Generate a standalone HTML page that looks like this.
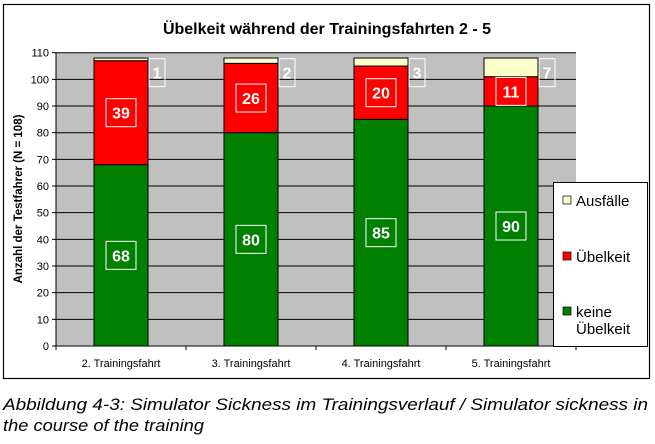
<!DOCTYPE html>
<html><head><meta charset="utf-8"><style>
body{margin:0;background:#fff;width:655px;height:439px;overflow:hidden;font-family:"Liberation Sans",sans-serif}
</style></head><body>
<svg id="c" width="655" height="439" xmlns="http://www.w3.org/2000/svg" font-family="Liberation Sans, sans-serif">
<rect x="3.5" y="4.5" width="646" height="374" fill="#fff" stroke="#000" stroke-width="1.2"/>
<text x="327" y="34" text-anchor="middle" font-size="16" font-weight="bold">Übelkeit während der Trainingsfahrten 2 - 5</text>
<g id="plot"></g>
<text transform="translate(22,199) rotate(-90)" text-anchor="middle" font-size="11.5" font-weight="bold">Anzahl der Testfahrer (N = 108)</text>
<g>
<rect x="553.5" y="182.5" width="94" height="164" fill="#fff" stroke="#000"/>
<rect x="563" y="196" width="8" height="8" fill="#ffffcc" stroke="#000" stroke-width="0.7"/>
<text x="576" y="206" font-size="15">Ausfälle</text>
<rect x="563" y="252" width="8" height="8" fill="#ff0000" stroke="#000" stroke-width="0.7"/>
<text x="576" y="262" font-size="15">Übelkeit</text>
<rect x="563" y="307" width="8" height="8" fill="#008000" stroke="#000" stroke-width="0.7"/>
<text x="576" y="317" font-size="15">keine</text>
<text x="576" y="334" font-size="15">Übelkeit</text>
</g>
<text x="3" y="410" font-size="16.5" font-style="italic" textLength="645" lengthAdjust="spacingAndGlyphs">Abbildung 4-3: Simulator Sickness im Trainingsverlauf / Simulator sickness in</text>
<text x="3" y="431" font-size="16.5" font-style="italic" textLength="201" lengthAdjust="spacingAndGlyphs">the course of the training</text>
</svg>
<script>
const categories=["2. Trainingsfahrt","3. Trainingsfahrt","4. Trainingsfahrt","5. Trainingsfahrt"];
const keine=[68,80,85,90];
const uebel=[39,26,20,11];
const ausfall=[1,2,3,7];
const yTicks=[0,10,20,30,40,50,60,70,80,90,100,110];
const NS="http://www.w3.org/2000/svg";
const g=document.getElementById('plot');
const x0=56,x1=576,yb=346,yt=52.7,ymax=110;
const y=v=>yb-(v/ymax)*(yb-yt);
const bw=(x1-x0)/categories.length;
const cx=i=>x0+bw*(i+0.5);
function mk(t,a){const e=document.createElementNS(NS,t);for(const k in a)e.setAttribute(k,a[k]);g.appendChild(e);return e;}
let e=mk('rect',{x:x0,y:yt,width:x1-x0,height:yb-yt,fill:'#c0c0c0'});


yTicks.forEach(t=>{
 if(t>0){let l=mk('line',{x1:x0,x2:x1,y1:y(t),y2:y(t),stroke:'#000','stroke-width':1});
 
 }
 let k=mk('line',{x1:x0-4,x2:x0,y1:y(t),y2:y(t),stroke:'#000'});
 
 
 let tx=mk('text',{x:x0-7,y:y(t)+4,'text-anchor':'end','font-size':11});
 tx.textContent=t;
 
 
});
let ax=mk('line',{x1:x0,x2:x0,y1:yt,y2:yb,stroke:'#000'});


let xa=mk('line',{x1:x0,x2:x1,y1:yb,y2:yb,stroke:'#000'});


for(let i=0;i<=categories.length;i++){
 let k=mk('line',{x1:x0+bw*i,x2:x0+bw*i,y1:yb,y2:yb+4,stroke:'#000'});
 
 
}
function label(xc,yc,txt,w,col){
 let r=mk('rect',{x:xc-w/2,y:yc-14,width:w,height:28,fill:col,stroke:'#fff','stroke-width':1});
 
 
 let t=mk('text',{x:xc,y:yc+6,'text-anchor':'middle','font-size':16,'font-weight':'bold',fill:'#fff'});
 t.textContent=txt;
 
 
}
categories.forEach((c,i)=>{
 const bx=cx(i)-27;
 const segs=[[0,keine[i],'#008000','bar-keine'],[keine[i],keine[i]+uebel[i],'#ff0000','bar-uebelkeit'],[keine[i]+uebel[i],keine[i]+uebel[i]+ausfall[i],'#ffffcc','bar-ausfaelle']];
 segs.forEach(s=>{
  let r=mk('rect',{x:bx,y:y(s[1]),width:54,height:y(s[0])-y(s[1]),fill:s[2],stroke:'#000','stroke-width':1});
  
  
 });
 label(cx(i),y(keine[i]/2),keine[i],30,'#008000');
 label(cx(i),y(keine[i]+uebel[i]/2),uebel[i],30,'#ff0000');
 label(cx(i)+36,y(102.5),ausfall[i],16,'none');
 let t=mk('text',{x:cx(i),y:yb+21,'text-anchor':'middle','font-size':11});
 t.textContent=c;
 
 
});
</script>
</body></html>
